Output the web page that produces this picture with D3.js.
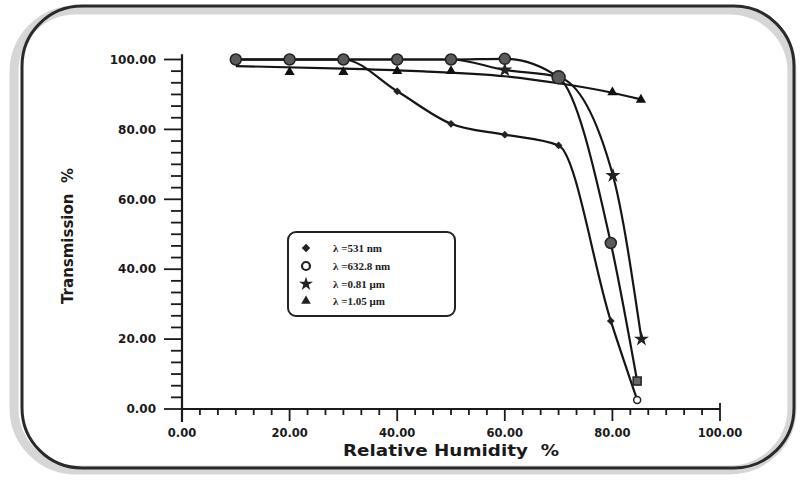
<!DOCTYPE html>
<html><head><meta charset="utf-8">
<script src="https://cdn.jsdelivr.net/npm/d3@7/dist/d3.min.js"></script>
<style>
html,body{margin:0;padding:0;background:#fff;}
svg{display:block;}
text{fill:#1a1a1a;}
</style></head>
<body>
<svg id="chart" width="802" height="493"></svg>
<script>
// ---- data ----
const xTickValues = [0, 20, 40, 60, 80, 100];
const yTickValues = [0, 20, 40, 60, 80, 100];
const xTitle = "Relative Humidity  %";
const yTitle = "Transmission  %";

// λ = 531 nm (diamonds)
const s531 = [[10,100],[20,100],[30,100],[40,90.9],[50,81.6],[60,78.5],[70,75.4],[79.7,25.2],[84.6,2.6]];
// λ = 632.8 nm (circles)
const s632 = [[10,100],[20,100],[30,100],[40,100],[50,100],[60,100.2],[70,94.9],[79.7,47.5],[84.6,8]];
// λ = 0.81 µm (stars)
const s081 = [[10,100],[20,100],[30,100],[40,100],[50,100],[60,97],[70,95],[80.1,66.8],[85.4,20]];
// λ = 1.05 µm (triangle markers and its fitted line)
const s105 = [[20,96.4],[30,96.4],[40,96.7],[50,96.7],[80,90.6],[85.3,88.5]];
const s105line = [[10,98.1],[30,97.4],[45,96.6],[60,95.2],[70,93.2],[80,90.5],[85.3,88.6]];

const legendLabels = ["λ =531 nm", "λ =632.8 nm", "λ =0.81 μm", "λ =1.05 μm"];

// ---- layout ----
const svg = d3.select("#chart");
const x = d3.scaleLinear().domain([0,100]).range([182,720]);
const y = d3.scaleLinear().domain([0,100]).range([409,59.5]);

// frame (scanned rounded border)
svg.append("rect").attr("x",14).attr("y",10).attr("width",778).attr("height",460)
  .attr("rx",62).attr("fill","none").attr("stroke","#bbb").attr("stroke-width",9).attr("opacity",0.6);
svg.append("rect").attr("x",22).attr("y",6).attr("width",772).attr("height",462)
  .attr("rx",60).attr("fill","none").attr("stroke","#2a2a2a").attr("stroke-width",3);

// axes
const g = svg.append("g");
g.append("line").attr("x1",x(0)).attr("x2",x(0)).attr("y1",y(101.5)).attr("y2",y(0)+13)
  .attr("stroke","#1a1a1a").attr("stroke-width",2.2);
g.append("line").attr("x1",x(0)).attr("x2",x(100)).attr("y1",y(0)).attr("y2",y(0))
  .attr("stroke","#1a1a1a").attr("stroke-width",2.2);

const minorVals = d3.range(0,100.01,20/6);
const isMajor = d => Math.abs(d%20)<0.01 || Math.abs(d%20-20)<0.01;
g.selectAll(".ymin").data(minorVals).enter().append("line")
  .attr("x1",d=>x(0)-(isMajor(d)?18:11)).attr("x2",x(0))
  .attr("y1",d=>y(d)).attr("y2",d=>y(d)).attr("stroke","#1a1a1a").attr("stroke-width",1.8);
g.selectAll(".xmin").data(minorVals).enter().append("line")
  .attr("x1",d=>x(d)).attr("x2",d=>x(d)).attr("y1",y(0))
  .attr("y2",d=>y(0)+(isMajor(d)?12:6))
  .attr("stroke","#1a1a1a").attr("stroke-width",1.8);
g.append("line").attr("x1",x(100)).attr("x2",x(100)).attr("y1",y(0)-6).attr("y2",y(0))
  .attr("stroke","#1a1a1a").attr("stroke-width",1.8);

const fmt = d3.format(".2f");
g.selectAll(".ylab").data(yTickValues).enter().append("text")
  .attr("x",156).attr("y",d=>y(d)).attr("dy","0.35em").attr("text-anchor","end")
  .style("font-family","DejaVu Sans").style("font-weight","bold").style("font-size","12px")
  .text(d=>fmt(d));
g.selectAll(".xlab").data(xTickValues).enter().append("text")
  .attr("x",d=>x(d)).attr("y",437).attr("text-anchor","middle")
  .style("font-family","DejaVu Sans").style("font-weight","bold").style("font-size","11.5px")
  .text(d=>fmt(d));

svg.append("text").attr("x",451).attr("y",456).attr("text-anchor","middle")
  .style("font-family","DejaVu Sans").style("font-weight","bold").style("font-size","15px")
  .attr("textLength",216).attr("lengthAdjust","spacingAndGlyphs")
  .attr("xml:space","preserve").text(xTitle);
svg.append("text").attr("transform","translate(73,236) rotate(-90)").attr("text-anchor","middle")
  .style("font-family","DejaVu Sans").style("font-weight","bold").style("font-size","15px")
  .attr("xml:space","preserve").text(yTitle);

// lines
const line = d3.line().x(d=>x(d[0])).y(d=>y(d[1])).curve(d3.curveMonotoneX);
const lineG = svg.append("g").attr("fill","none").attr("stroke","#151515").attr("stroke-width",2.2);
[s531, s632, s081, s105line].forEach(s => lineG.append("path").attr("d", line(s)));

// markers
const sym = (type,size)=>d3.symbol().type(type).size(size)();
const mk = svg.append("g");
mk.selectAll(".dia").data(s531.slice(3,8)).enter().append("path")
  .attr("transform",d=>`translate(${x(d[0])},${y(d[1])}) rotate(45)`)
  .attr("d",sym(d3.symbolSquare,30)).attr("fill","#222");
mk.selectAll(".star").data([s081[5], s081[7], s081[8]]).enter().append("path")
  .attr("transform",d=>`translate(${x(d[0])},${y(d[1])})`)
  .attr("d",sym(d3.symbolStar,70)).attr("fill","#222");
mk.selectAll(".tri").data(s105).enter().append("path")
  .attr("transform",d=>`translate(${x(d[0])},${y(d[1])})`)
  .attr("d",sym(d3.symbolTriangle,45)).attr("fill","#111");
mk.selectAll(".circ").data(s632.slice(0,8)).enter().append("circle")
  .attr("cx",d=>x(d[0])).attr("cy",d=>y(d[1])).attr("r",(d,i)=>i===6?6.5:5.5)
  .attr("fill","#5a5a5a").attr("stroke","#222").attr("stroke-width",1.5);
// end points at ~85 %
mk.append("rect").attr("x",x(s632[8][0])-4).attr("y",y(s632[8][1])-4).attr("width",8).attr("height",8)
  .attr("fill","#666").attr("stroke","#222").attr("stroke-width",1.5);
mk.append("circle").attr("cx",x(s531[8][0])).attr("cy",y(s531[8][1])).attr("r",3.5)
  .attr("fill","#fff").attr("stroke","#222").attr("stroke-width",1.5);

// legend
const lg = svg.append("g");
lg.append("rect").attr("x",288).attr("y",232).attr("width",167).attr("height",84).attr("rx",8)
  .attr("fill","none").attr("stroke","#222").attr("stroke-width",2);
const rowY = [248,266,284,301];
lg.append("path").attr("transform",`translate(306,${rowY[0]}) rotate(45)`).attr("d",sym(d3.symbolSquare,36)).attr("fill","#222");
lg.append("circle").attr("cx",306).attr("cy",rowY[1]).attr("r",4).attr("fill","#fff").attr("stroke","#222").attr("stroke-width",2.2);
lg.append("path").attr("transform",`translate(306,${rowY[2]})`).attr("d",sym(d3.symbolStar,60)).attr("fill","#222");
lg.append("path").attr("transform",`translate(306,${rowY[3]})`).attr("d",sym(d3.symbolTriangle,40)).attr("fill","#222");
lg.selectAll(".lt").data(legendLabels).enter().append("text")
  .attr("x",333).attr("y",(d,i)=>rowY[i]).attr("dy","0.35em")
  .style("font-family","Liberation Serif").style("font-weight","bold").style("font-size","11px")
  .text(d=>d);
</script>
</body></html>
